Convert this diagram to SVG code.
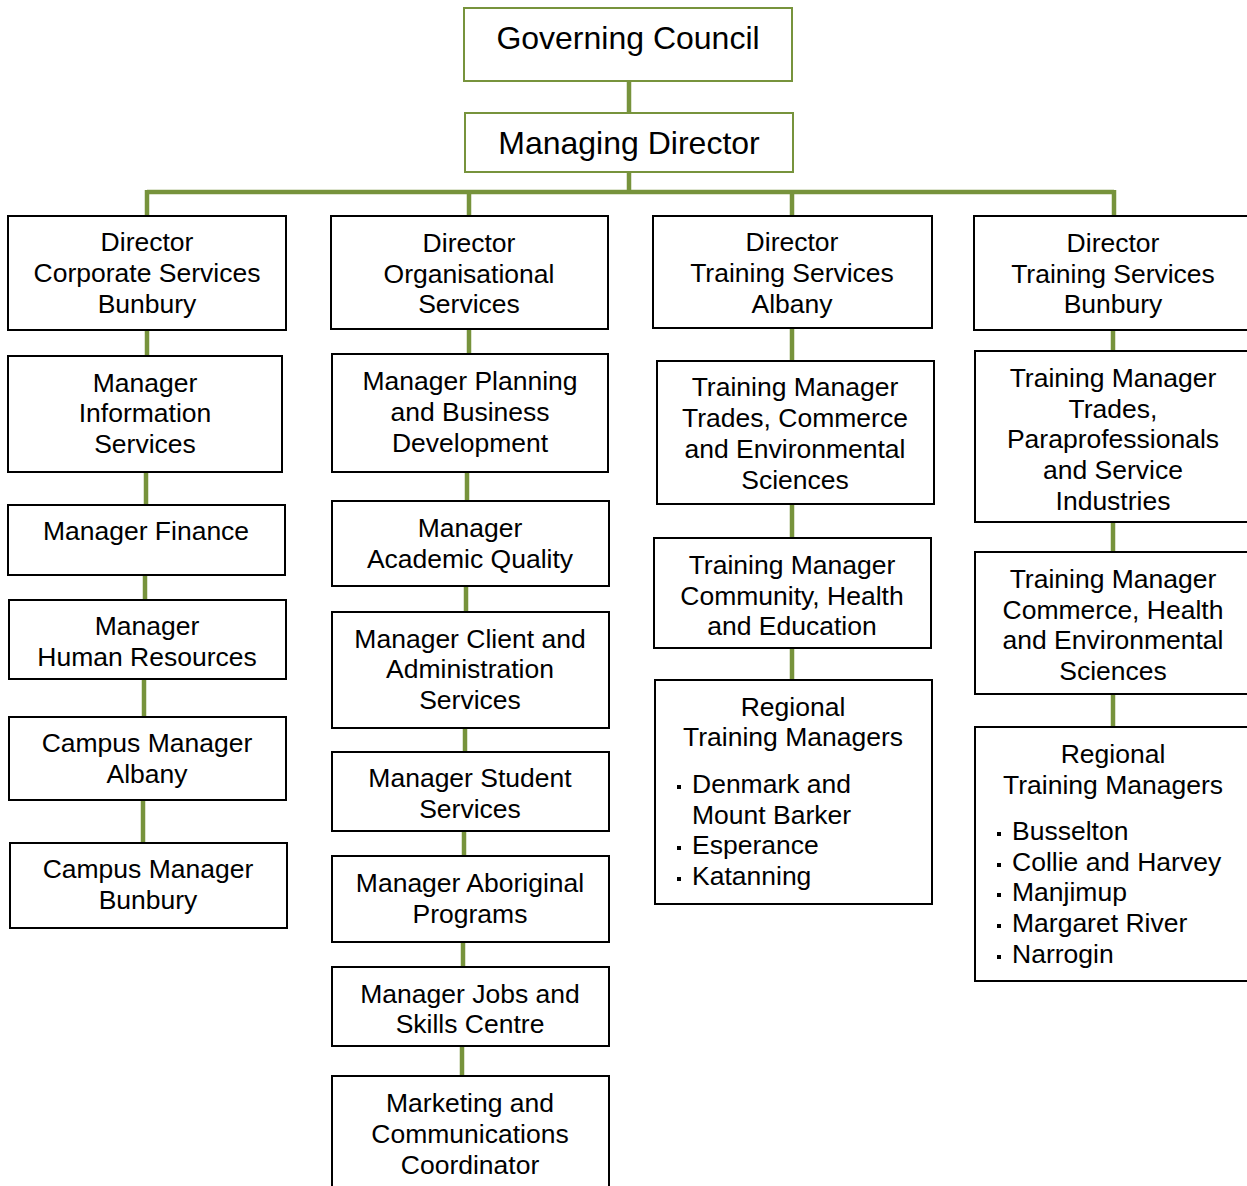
<svg xmlns="http://www.w3.org/2000/svg" width="1247" height="1186" viewBox="0 0 1247 1186">
<style>
.b{fill:#fff;stroke:#000;stroke-width:2}
.g{fill:#fff;stroke:#77933C;stroke-width:2}
.c{stroke:#77933C;stroke-width:4.5;fill:none}
text{font-family:"Liberation Sans",Arial,sans-serif;font-size:26.5px;fill:#000}
.m{text-anchor:middle}
.big{font-size:32px}
.bl{fill:#000}
</style>
<rect width="1247" height="1186" fill="#fff"/>
<g id="connectors">
<path class="c" d="M629 81V113M629 172V192M147 192H1114M147 190V216M469 190V216M792 190V216M1114 190V216"/>
<path class="c" d="M147 330V356M146 472V505M145 575V600M144 679V717M143 800V843"/>
<path class="c" d="M469 329V354M467 472V501M466 586V612M465 728V752M464 831V856M463 942V967M462 1046V1076"/>
<path class="c" d="M792 328V361M792 504V538M792 648V680"/>
<path class="c" d="M1113 330V351M1113 522V552M1113 694V727"/>
</g>
<g id="governing-council"><rect class="g" x="464" y="8" width="328" height="73"/><text class="m big" x="628" y="49">Governing Council</text></g>
<g id="managing-director"><rect class="g" x="465" y="113" width="328" height="59"/><text class="m big" x="629" y="154">Managing Director</text></g>

<g id="dir-corporate"><rect class="b" x="8" y="216" width="278" height="114"/><text class="m" x="147"><tspan x="147" y="251">Director</tspan><tspan x="147" y="282">Corporate Services</tspan><tspan x="147" y="313">Bunbury</tspan></text></g>
<g id="mgr-info"><rect class="b" x="8" y="356" width="274" height="116"/><text class="m"><tspan x="145" y="392">Manager</tspan><tspan x="145" y="422">Information</tspan><tspan x="145" y="453">Services</tspan></text></g>
<g id="mgr-finance"><rect class="b" x="8" y="505" width="277" height="70"/><text class="m" x="146" y="540">Manager Finance</text></g>
<g id="mgr-hr"><rect class="b" x="9" y="600" width="277" height="79"/><text class="m"><tspan x="147" y="635">Manager</tspan><tspan x="147" y="666">Human Resources</tspan></text></g>
<g id="campus-albany"><rect class="b" x="9" y="717" width="277" height="83"/><text class="m"><tspan x="147" y="752">Campus Manager</tspan><tspan x="147" y="783">Albany</tspan></text></g>
<g id="campus-bunbury"><rect class="b" x="10" y="843" width="277" height="85"/><text class="m"><tspan x="148" y="878">Campus Manager</tspan><tspan x="148" y="909">Bunbury</tspan></text></g>

<g id="dir-org"><rect class="b" x="331" y="216" width="277" height="113"/><text class="m"><tspan x="469" y="252">Director</tspan><tspan x="469" y="283">Organisational</tspan><tspan x="469" y="313">Services</tspan></text></g>
<g id="mgr-planning"><rect class="b" x="332" y="354" width="276" height="118"/><text class="m"><tspan x="470" y="390">Manager Planning</tspan><tspan x="470" y="421">and Business</tspan><tspan x="470" y="452">Development</tspan></text></g>
<g id="mgr-academic"><rect class="b" x="332" y="501" width="277" height="85"/><text class="m"><tspan x="470" y="537">Manager</tspan><tspan x="470" y="568">Academic Quality</tspan></text></g>
<g id="mgr-client"><rect class="b" x="332" y="612" width="277" height="116"/><text class="m"><tspan x="470" y="648">Manager Client and</tspan><tspan x="470" y="678">Administration</tspan><tspan x="470" y="709">Services</tspan></text></g>
<g id="mgr-student"><rect class="b" x="332" y="752" width="277" height="79"/><text class="m"><tspan x="470" y="787">Manager Student</tspan><tspan x="470" y="818">Services</tspan></text></g>
<g id="mgr-aboriginal"><rect class="b" x="332" y="856" width="277" height="86"/><text class="m"><tspan x="470" y="892">Manager Aboriginal</tspan><tspan x="470" y="923">Programs</tspan></text></g>
<g id="mgr-jobs"><rect class="b" x="332" y="967" width="277" height="79"/><text class="m"><tspan x="470" y="1003">Manager Jobs and</tspan><tspan x="470" y="1033">Skills Centre</tspan></text></g>
<g id="marketing"><rect class="b" x="332" y="1076" width="277" height="120"/><text class="m"><tspan x="470" y="1112">Marketing and</tspan><tspan x="470" y="1143">Communications</tspan><tspan x="470" y="1174">Coordinator</tspan></text></g>

<g id="dir-albany"><rect class="b" x="653" y="216" width="279" height="112"/><text class="m"><tspan x="792" y="251">Director</tspan><tspan x="792" y="282">Training Services</tspan><tspan x="792" y="313">Albany</tspan></text></g>
<g id="tm-trades-albany"><rect class="b" x="657" y="361" width="277" height="143"/><text class="m"><tspan x="795" y="396">Training Manager</tspan><tspan x="795" y="427">Trades, Commerce</tspan><tspan x="795" y="458">and Environmental</tspan><tspan x="795" y="489">Sciences</tspan></text></g>
<g id="tm-community"><rect class="b" x="654" y="538" width="277" height="110"/><text class="m"><tspan x="792" y="574">Training Manager</tspan><tspan x="792" y="605">Community, Health</tspan><tspan x="792" y="635">and Education</tspan></text></g>
<g id="rtm-albany"><rect class="b" x="655" y="680" width="277" height="224"/><text class="m"><tspan x="793" y="716">Regional</tspan><tspan x="793" y="746">Training Managers</tspan></text>
<rect class="bl" x="677" y="785" width="4" height="4"/><rect class="bl" x="677" y="846" width="4" height="4"/><rect class="bl" x="677" y="877" width="4" height="4"/>
<text><tspan x="692" y="793">Denmark and</tspan><tspan x="692" y="824">Mount Barker</tspan><tspan x="692" y="854">Esperance</tspan><tspan x="692" y="885">Katanning</tspan></text></g>

<g id="dir-bunbury"><rect class="b" x="974" y="216" width="278" height="114"/><text class="m"><tspan x="1113" y="252">Director</tspan><tspan x="1113" y="283">Training Services</tspan><tspan x="1113" y="313">Bunbury</tspan></text></g>
<g id="tm-trades-bunbury"><rect class="b" x="975" y="351" width="277" height="171"/><text class="m"><tspan x="1113" y="387">Training Manager</tspan><tspan x="1113" y="418">Trades,</tspan><tspan x="1113" y="448">Paraprofessionals</tspan><tspan x="1113" y="479">and Service</tspan><tspan x="1113" y="510">Industries</tspan></text></g>
<g id="tm-commerce"><rect class="b" x="975" y="552" width="277" height="142"/><text class="m"><tspan x="1113" y="588">Training Manager</tspan><tspan x="1113" y="619">Commerce, Health</tspan><tspan x="1113" y="649">and Environmental</tspan><tspan x="1113" y="680">Sciences</tspan></text></g>
<g id="rtm-bunbury"><rect class="b" x="975" y="727" width="277" height="254"/><text class="m"><tspan x="1113" y="763">Regional</tspan><tspan x="1113" y="794">Training Managers</tspan></text>
<rect class="bl" x="997" y="832" width="4" height="4"/><rect class="bl" x="997" y="863" width="4" height="4"/><rect class="bl" x="997" y="893" width="4" height="4"/><rect class="bl" x="997" y="924" width="4" height="4"/><rect class="bl" x="997" y="955" width="4" height="4"/>
<text><tspan x="1012" y="840">Busselton</tspan><tspan x="1012" y="871">Collie and Harvey</tspan><tspan x="1012" y="901">Manjimup</tspan><tspan x="1012" y="932">Margaret River</tspan><tspan x="1012" y="963">Narrogin</tspan></text></g>
</svg>
